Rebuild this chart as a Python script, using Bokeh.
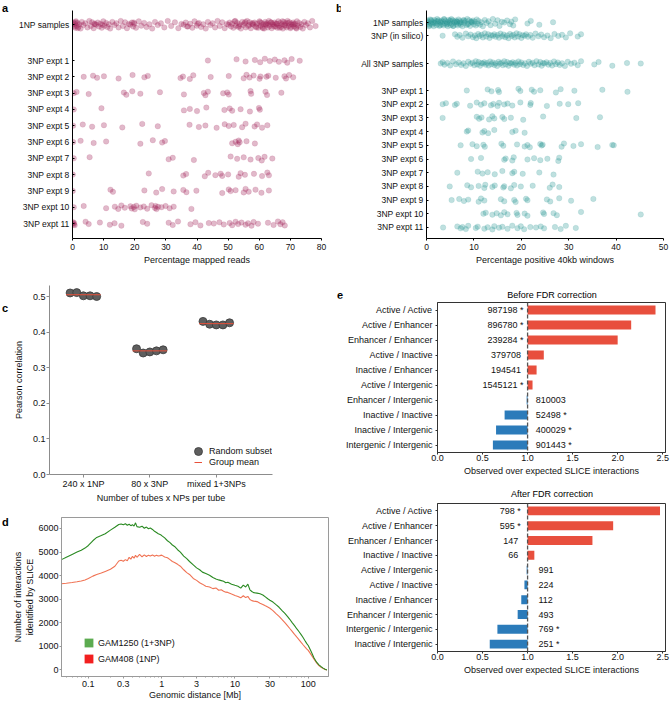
from bokeh.plotting import figure
from bokeh.layouts import row, column
from bokeh.models import (Range1d, FactorRange, FixedTicker, Legend, LegendItem,
                          Span, NumeralTickFormatter, Div)
from bokeh.embed import file_html
from bokeh.resources import INLINE
from bokeh.core.properties import value
import numpy as np

FONT = "Liberation Sans"

# ---------------- data: panel a (percentage mapped reads) ----------------
a_rows = ["3NP expt 1", "3NP expt 2", "3NP expt 3", "3NP expt 4", "3NP expt 5", "3NP expt 6",
          "3NP expt 7", "3NP expt 8", "3NP expt 9", "3NP expt 10", "3NP expt 11"]
a_1np = [0.1, 0.3, 0.5, 0.7, 0.9, 1.1, 1.3, 1.6, 1.9, 2.2, 2.6, 3.0, 3.5, 4.1, 4.8,
         5.4, 5.9, 6.3, 6.8, 7.2, 7.6, 8.1, 8.5, 9.0, 9.4, 9.9, 10.3, 10.8, 11.2, 11.7, 12.1,
         12.8, 13.5, 14.1, 14.8, 15.5, 16.2, 16.9, 17.5, 18.1, 18.6, 19.1, 19.5, 19.9, 20.4,
         21.3, 22.1, 23.0, 23.8, 24.7, 25.6, 26.5, 27.4, 28.4, 29.5, 30.6, 31.7, 32.9, 34.0,
         35.0, 35.7, 36.4, 37.1, 37.8, 38.5, 39.2, 39.9, 40.6, 41.3, 42.0, 42.8, 43.5, 44.3,
         45.0, 45.8, 46.6, 47.3, 48.1, 48.9, 49.6,
         50.1, 50.5, 50.9, 51.3, 51.7, 52.1, 52.5, 52.9, 53.3, 53.7, 54.1, 54.5, 54.9, 55.3,
         55.7, 56.1, 56.5, 56.9, 57.3, 57.7, 58.1, 58.5, 58.9, 59.3, 59.7, 60.1, 60.4, 60.7,
         61.0, 61.3, 61.6, 61.9, 62.2, 62.5, 62.8, 63.1, 63.4, 63.7, 64.0, 64.3, 64.6, 64.9,
         65.2, 65.5, 65.8, 66.1, 66.4, 66.7, 67.0, 67.3, 67.6, 67.9, 68.2, 68.5, 68.8, 69.1,
         69.4, 69.7, 70.0, 70.3, 70.6, 70.9, 71.2, 71.5, 71.8, 72.1, 72.4, 72.8, 73.2, 73.6,
         74.0, 74.5, 75.0, 75.6, 76.3, 77.0, 78.1,
         60.25, 61.15, 62.05, 62.95, 63.85, 64.75, 65.65, 66.55, 67.45, 68.35, 69.25, 70.15,
         71.05, 71.95, 55.5, 56.7, 57.9, 59.1, 52.3, 53.5, 1.0, 1.7, 7.0, 9.6, 19.7, 36.8, 40.2]
a_e1 = [43.5, 52.7, 55.6, 58.6, 60.3, 61.8, 63.4, 65.0, 66.3, 68.1, 69.0, 70.4, 73.0]
a_e2 = [3.6, 6.6, 7.9, 10.1, 14.8, 19.3, 23.1, 24.2, 34.7, 35.5, 37.7, 38.8, 44.4, 50.2, 55.0,
        55.9, 56.9, 58.2, 60.1, 60.4, 62.3, 62.9, 65.3, 68.1, 68.6, 69.6, 70.9]
a_e3 = [0.4, 1.3, 5.2, 16.5, 17.3, 19.2, 21.8, 28.1, 35.8, 42.2, 42.7, 43.5, 48.4, 49.7, 50.2,
        57.2, 57.4, 62.0, 62.5, 67.1]
a_e4 = [0.4, 9.3, 35.8, 37.7, 40.0, 43.0, 48.8, 50.5, 51.3, 54.0, 57.0, 59.9, 60.2]
a_e5 = [0.2, 3.3, 6.3, 10.1, 16.0, 22.4, 27.4, 37.6, 40.6, 42.7, 46.3, 48.9, 50.2, 51.8, 54.5,
        55.6, 58.5, 59.3, 60.9, 62.6]
a_e6 = [0.2, 2.6, 6.8, 10.8, 21.8, 25.8, 28.8, 29.7, 51.3, 52.4, 53.1, 53.4, 53.7, 55.9, 58.6]
a_e7 = [0.4, 5.5, 30.9, 32.2, 39.0, 50.8, 52.9, 55.0, 57.2, 59.7, 60.8, 61.7, 64.2]
a_e8 = [0.1, 24.5, 35.6, 36.5, 42.5, 43.6, 45.9, 47.6, 48.1, 50.0, 53.4, 54.0, 55.4, 58.3, 60.9,
        62.6, 63.1]
a_e9 = [0.1, 12.2, 13.0, 23.1, 26.9, 28.8, 32.5, 35.6, 36.6, 39.8, 48.1, 50.2, 50.8, 52.4, 55.0,
        55.6, 56.6, 58.8, 60.7, 63.1]
a_e10 = [0.4, 3.6, 10.8, 13.6, 14.7, 15.7, 16.8, 18.6, 19.0, 19.7, 20.0, 20.5, 21.8, 22.9, 24.0,
         25.4, 26.5, 26.7, 27.0, 27.5, 28.6, 29.9, 31.2, 32.5, 38.2]
a_e11 = [0.0, 0.2, 0.4, 0.5, 0.7, 4.2, 5.2, 8.8, 12.0, 13.5, 15.7, 22.6, 24.0, 30.9, 32.2, 33.9,
         37.9, 39.5, 41.1, 43.8, 45.4, 47.2, 48.6, 50.5, 51.3, 52.4, 53.2, 54.3, 55.6, 56.4, 57.5,
         58.2, 59.6, 62.8, 64.6, 66.0, 66.8, 67.5, 68.2]
a_expts = [a_e1, a_e2, a_e3, a_e4, a_e5, a_e6, a_e7, a_e8, a_e9, a_e10, a_e11]

# ---------------- data: panel b (percentage positive 40kb windows) ----------------
b_1np = [0.1, 0.2, 0.3, 0.45, 0.6, 0.75, 0.9, 1.05, 1.2, 1.35, 1.5, 1.65, 1.8, 1.95, 2.1, 2.25,
         2.4, 2.55, 2.7, 2.85, 3.0, 3.15, 3.3, 3.45, 3.6, 3.75, 3.9, 4.05, 4.2, 4.35, 4.5, 4.65,
         4.8, 4.95, 5.1, 5.25, 5.4, 5.55, 5.7, 5.85, 6.0, 6.15, 6.3, 6.45, 6.6, 6.75, 6.9, 7.05,
         7.2, 7.4, 7.6, 7.8, 8.0, 8.2, 8.4, 8.6, 8.8, 9.0, 9.2, 9.4, 9.6, 9.8, 10.0, 10.2, 10.4,
         10.6, 10.8, 11.0, 11.3, 11.6, 11.9, 12.3, 12.7, 13.1, 13.5, 14.0, 14.5, 15.0, 15.4,
         15.9, 16.4, 17.0, 17.6, 17.9, 18.3, 18.7, 21.3, 22.0, 23.8, 26.7,
         0.5, 1.0, 1.6, 2.3, 2.9, 3.7, 4.4, 5.0, 5.6, 6.4, 7.1, 7.9, 8.7, 9.5]
b_silico = [3.4, 6.0, 6.5, 7.0, 7.6, 8.3, 8.8, 9.3, 9.8, 10.2, 10.5, 10.9, 11.2, 11.6, 11.9, 12.3,
            12.6, 13.0, 13.3, 13.6, 14.0, 14.3, 14.6, 15.0, 15.3, 15.6, 16.0, 16.3, 16.6, 17.0,
            17.3, 17.6, 18.0, 18.3, 18.6, 19.0, 19.3, 19.6, 20.0, 20.3, 20.7, 21.0, 21.4, 21.9,
            22.4, 23.0, 23.6, 24.2, 24.8, 25.5, 26.2, 27.0, 27.8, 28.6, 29.4, 30.3, 31.9, 32.6]
b_all3 = [3.0, 3.4, 3.8, 4.4, 5.0, 5.6, 6.2, 6.8, 7.3, 7.8, 8.3, 8.8, 9.3, 9.7, 10.1, 10.4, 10.7,
          11.0, 11.3, 11.6, 11.9, 12.2, 12.5, 12.8, 13.1, 13.4, 13.7, 14.0, 14.3, 14.6, 14.9,
          15.2, 15.5, 15.8, 16.1, 16.4, 16.7, 17.0, 17.3, 17.6, 17.9, 18.2, 18.5, 18.8, 19.1,
          19.4, 19.7, 20.0, 20.4, 20.8, 21.2, 21.6, 22.0, 22.4, 22.8, 23.2, 23.6, 24.0, 24.3,
          24.6, 24.9, 25.3, 25.7, 26.1, 26.5, 26.9, 27.3, 27.7, 28.1, 28.6, 29.2, 29.8, 30.5,
          31.2, 31.9, 32.6, 35.4, 36.3, 39.2, 42.3, 45.2]
b_e1 = [8.5, 12.9, 13.7, 15.1, 15.3, 19.4, 19.8, 22.2, 22.7, 24.0, 27.3, 28.3, 31.2, 37.1, 42.4]
b_e2 = [3.4, 4.1, 6.0, 6.4, 9.2, 10.6, 11.5, 12.2, 13.6, 14.1, 15.0, 15.3, 16.4, 17.1, 18.1, 19.8,
        21.9, 22.0, 25.4, 28.1, 29.9, 32.0]
b_e3 = [3.4, 10.6, 11.1, 11.6, 13.2, 13.9, 14.3, 16.0, 16.4, 17.8, 20.4, 24.6, 31.6, 36.6]
b_e4 = [8.5, 8.8, 11.8, 12.2, 13.0, 14.3, 18.1, 18.8, 20.7]
b_e5 = [7.2, 9.7, 10.6, 12.0, 12.3, 15.8, 16.2, 19.1, 20.7, 21.3, 21.8, 24.0, 24.3, 24.5, 28.5,
        29.0, 31.0, 32.6, 36.1, 39.2, 39.5]
b_e6 = [9.4, 11.5, 16.4, 16.7, 18.1, 18.4, 21.3, 22.7, 24.0, 25.5, 27.8, 28.0]
b_e7 = [6.5, 10.8, 11.8, 12.9, 14.4, 16.0, 18.1, 18.5, 20.3, 23.8, 26.8]
b_e8 = [4.9, 8.6, 9.4, 11.0, 12.2, 12.4, 13.9, 14.4, 16.2, 16.4, 17.8, 18.5, 19.9, 22.4, 26.0,
        26.6, 28.0]
b_e9 = [5.3, 6.9, 7.9, 8.8, 11.0, 11.5, 12.2, 15.7, 16.4, 18.5, 18.8, 21.0, 21.3, 25.4, 26.1,
        28.0, 30.5, 35.2]
b_e10 = [12.0, 12.5, 13.9, 14.8, 15.7, 16.4, 17.1, 19.0, 19.2, 20.7, 21.3, 24.6, 24.8, 26.8, 27.5,
         32.6, 45.2]
b_e11 = [3.5, 6.5, 7.2, 7.6, 8.3, 8.8, 10.4, 10.8, 12.2, 12.9, 13.9, 14.3, 15.3, 16.0, 17.1, 18.1,
         19.2, 19.9, 20.6, 21.9, 23.1, 24.1, 24.8, 27.1, 28.3, 29.4, 31.5]
b_expts = [b_e1, b_e2, b_e3, b_e4, b_e5, b_e6, b_e7, b_e8, b_e9, b_e10, b_e11]

# ---------------- data: panel c ----------------
c_groups = ["240 x 1NP", "80 x 3NP", "mixed 1+3NPs"]
c_240x1 = [0.511, 0.512, 0.503, 0.503, 0.501]
c_80x3 = [0.354, 0.342, 0.345, 0.348, 0.351]
c_mixed = [0.431, 0.423, 0.421, 0.421, 0.427]
c_vals = [c_240x1, c_80x3, c_mixed]

# ---------------- data: panel d ----------------
d_dist = [0.043, 0.05, 0.06, 0.07, 0.08, 0.09, 0.1, 0.115, 0.13, 0.15, 0.17, 0.2, 0.23, 0.26,
          0.28, 0.3, 0.32, 0.34, 0.36, 0.38, 0.4, 0.42, 0.44, 0.46, 0.5, 0.54, 0.58, 0.62, 0.66,
          0.7, 0.75, 0.8, 0.85, 0.9, 0.95, 1.0, 1.1, 1.2, 1.3, 1.4, 1.5, 1.65, 1.8, 2.0, 2.2, 2.4,
          2.7, 3.0, 3.3, 3.6, 4.0, 4.5, 5.0, 5.5, 6.0, 6.5, 7.0, 7.5, 8.0, 9.0, 10, 11, 12, 13,
          14, 15, 16, 17, 18, 20, 22, 24, 26, 28, 30, 33, 36, 40, 44, 48, 52, 56, 60, 65, 70, 75,
          80, 85, 90, 95, 100, 110, 120, 130, 140, 150, 160, 170, 180]
d_gam1250 = [4680, 4780, 4900, 5000, 5080, 5170, 5280, 5480, 5620, 5700, 5780, 5930, 6050, 6170,
             6190, 6160, 6200, 6140, 6180, 6120, 6160, 6100, 6240, 6080, 6050, 6100, 6010, 6060,
             5990, 6020, 5960, 5880, 5830, 5780, 5750, 5700, 5600, 5480, 5400, 5300, 5240, 5100,
             5000, 4830, 4720, 4600, 4460, 4330, 4250, 4150, 4090, 4020, 3920, 3860, 3820, 3790,
             3760, 3700, 3720, 3640, 3590, 3550, 3470, 3600, 3520, 3640, 3400, 3330, 3280, 3260,
             3230, 3180, 3100, 3020, 2960, 2880, 2780, 2660, 2520, 2400, 2270, 2150, 2020, 1880,
             1740, 1620, 1500, 1380, 1250, 1130, 1040, 770, 510, 330, 220, 140, 80, 30, 0]
d_gam408 = [3660, 3680, 3710, 3740, 3770, 3820, 3880, 3980, 4050, 4110, 4180, 4270, 4400, 4620,
            4650, 4610, 4680, 4630, 4780, 4700, 4820, 4740, 4860, 4780, 4900, 4800, 4880, 4810,
            4870, 4830, 4880, 4820, 4870, 4830, 4850, 4870, 4790, 4760, 4680, 4600, 4560, 4480,
            4400, 4250, 4130, 4050, 3880, 3800, 3700, 3640, 3550, 3520, 3450, 3480, 3380, 3400,
            3340, 3300, 3290, 3220, 3160, 3120, 3060, 3150, 3070, 3120, 2990, 2940, 2920, 2900,
            2830, 2780, 2720, 2670, 2620, 2520, 2400, 2270, 2140, 2010, 1880, 1760, 1650, 1510,
            1390, 1280, 1170, 1070, 980, 900, 830, 640, 460, 300, 190, 110, 60, 20, 5]

# ---------------- data: panel e ----------------
e1_cats = ["Active / Active", "Active / Enhancer", "Enhancer / Enhancer", "Active / Inactive",
           "Inactive / Enhancer", "Active / Intergenic", "Enhancer / Intergenic",
           "Inactive / Inactive", "Inactive / Intergenic", "Intergenic / Intergenic"]
e1_vals = [2.42, 2.15, 2.00, 1.18, 1.10, 1.055, 0.99, 0.745, 0.65, 0.615]
e1_counts = ["987198", "896780", "239284", "379708", "194541", "1545121", "810003", "52498",
             "400029", "901443"]
e1_sig = [True, True, True, False, False, True, False, True, True, True]

e2_cats = ["Active / Active", "Active / Enhancer", "Enhancer / Enhancer", "Inactive / Inactive",
           "Active / Intergenic", "Active / Inactive", "Inactive / Enhancer",
           "Enhancer / Intergenic", "Intergenic / Intergenic", "Inactive / Intergenic"]
e2_vals = [2.47, 1.95, 1.72, 1.075, 0.99, 0.965, 0.93, 0.89, 0.665, 0.58]
e2_counts = ["798", "595", "147", "66", "991", "224", "112", "493", "769", "251"]
e2_sig = [True, True, False, False, False, False, False, False, True, True]

# ---------------- styles ----------------
A_COL = "#a3245a"
B_COL = "#2a9896"
RED = "#e84f3d"
BLUE = "#2b7bba"
JIT = [0.0, 0.55, -0.45, 0.25, -0.8, 0.85, -0.25, 0.45, -0.6, 0.1, -1.0, 0.7, -0.1, 0.35,
       -0.7, 0.95, -0.35, 0.6, -0.9, 0.2]


def jitter(vals, pos, half):
    return [pos + half * JIT[i % len(JIT)] for i in range(len(vals))]


def make_fig(w, h, xr, yr, l, r, t, b, **kw):
    p = figure(width=w, height=h, x_range=xr, y_range=yr, output_backend="svg",
               toolbar_location=None, min_border_left=l, min_border_right=r,
               min_border_top=t, min_border_bottom=b, **kw)
    p.grid.visible = False
    return p


def style_axes(p, size="9px", color="#000000", tick_in=0, tick_out=3, standoff=3):
    for ax in p.axis:
        ax.major_label_text_font = FONT
        ax.major_label_text_font_size = size
        ax.major_label_text_color = "#111111"
        ax.axis_label_text_font = FONT
        ax.axis_label_text_font_size = "9px"
        ax.axis_label_text_font_style = "normal"
        ax.axis_label_text_color = "#111111"
        ax.axis_line_color = color
        ax.major_tick_line_color = color
        ax.major_tick_in = tick_in
        ax.major_tick_out = tick_out
        ax.minor_tick_line_color = None
        ax.major_label_standoff = standoff


def text_div(txt, w, h, left, top, bold=True, size=11, inner_w=None, center=False):
    style = ("position:relative; left:%dpx; top:%dpx; font-family:'%s'; font-size:%dpx; "
             "line-height:12px; color:#000; white-space:nowrap; font-weight:%s;"
             % (left, top, FONT, size, "bold" if bold else "normal"))
    if inner_w is not None:
        style += " width:%dpx;" % inner_w
    if center:
        style += " text-align:center;"
    return Div(text='<div style="%s">%s</div>' % (style, txt), width=w, height=h,
               margin=(0, 0, 0, 0))


# ================= panel a =================
pa = make_fig(321, 272, Range1d(0, 80), Range1d(0.08, 14.07), 63, 9, 10, 34)
pa.outline_line_color = None
a_pos = [12 - k for k in range(1, 12)]
xs, ys = list(a_1np), jitter(a_1np, 13.2, 0.24)
for vals, pos in zip(a_expts, a_pos):
    xs += vals
    ys += jitter(vals, pos, 0.13)
pa.scatter(xs, ys, size=5.5, fill_color=A_COL, fill_alpha=0.32, line_color=A_COL, line_alpha=0.12)
pa.xaxis.ticker = FixedTicker(ticks=[0, 10, 20, 30, 40, 50, 60, 70, 80])
pa.yaxis.ticker = FixedTicker(ticks=a_pos + [13.2])
ov = {p_: n for p_, n in zip(a_pos, a_rows)}
ov[13.2] = "1NP samples"
pa.yaxis.major_label_overrides = ov
pa.xaxis.axis_label = "Percentage mapped reads"
style_axes(pa, size="8.5px", tick_in=0, tick_out=2, standoff=3)
pa.yaxis.major_tick_in = 2
pa.yaxis.major_tick_out = 0
pa.xaxis.axis_label_standoff = 2

# ================= panel b =================
pb = make_fig(330, 272, Range1d(0, 50), Range1d(0.197, 16.84), 86, 7, 10, 34)
pb.outline_line_color = None
b_rows = ["3NP expt %d" % k for k in range(1, 12)]
b_pos = [12 - k for k in range(1, 12)]
xs = list(b_1np) + list(b_silico) + list(b_all3)
ys = jitter(b_1np, 15.96, 0.27) + jitter(b_silico, 15.0, 0.18) + jitter(b_all3, 12.97, 0.18)
for vals, pos in zip(b_expts, b_pos):
    xs += vals
    ys += jitter(vals, pos, 0.14)
pb.scatter(xs, ys, size=5.5, fill_color=B_COL, fill_alpha=0.3, line_color=B_COL, line_alpha=0.12)
pb.xaxis.ticker = FixedTicker(ticks=[0, 10, 20, 30, 40, 50])
pb.yaxis.ticker = FixedTicker(ticks=b_pos + [12.97, 15.0, 15.96])
ov = {p_: n for p_, n in zip(b_pos, b_rows)}
ov[12.97] = "All 3NP samples"
ov[15.0] = "3NP (in silico)"
ov[15.96] = "1NP samples"
pb.yaxis.major_label_overrides = ov
pb.xaxis.axis_label = "Percentage positive 40kb windows"
style_axes(pb, size="8.5px", tick_in=0, tick_out=2, standoff=3)
pb.yaxis.major_tick_in = 2
pb.yaxis.major_tick_out = 0
pb.xaxis.axis_label_standoff = 2

# ================= panel c =================
pc = make_fig(321, 233, Range1d(-0.51, 2.846), Range1d(0, 0.532), 40, 58, 13, 28)
pc.outline_line_color = None
offs = [-0.2, -0.1, 0.0, 0.1, 0.2]
cx, cy, mx0, mx1, my = [], [], [], [], []
for gi, vals in enumerate(c_vals):
    cx += [gi + o for o in offs]
    cy += vals
    mx0.append(gi - 0.26)
    mx1.append(gi + 0.26)
    my.append(float(np.mean(vals)))
pts = pc.scatter(cx, cy, size=8, fill_color="#5e5e5e", line_color="#3a3a3a", line_width=0.8)
mean_r = pc.segment(x0=mx0, y0=my, x1=mx1, y1=my, line_color="#e8503a", line_width=1.0)
pc.xaxis.ticker = FixedTicker(ticks=[0, 1, 2])
pc.xaxis.major_label_overrides = {i: g for i, g in enumerate(c_groups)}
pc.yaxis.ticker = FixedTicker(ticks=[0, 0.1, 0.2, 0.3, 0.4, 0.5])
pc.yaxis.formatter = NumeralTickFormatter(format="0.0")
pc.xaxis.axis_label = "Number of tubes x NPs per tube"
pc.yaxis.axis_label = "Pearson correlation"
style_axes(pc, size="9px", color="#8c8c8c", tick_out=3, standoff=1)
pc.xaxis.axis_label_standoff = 1
pc.yaxis.axis_label_standoff = 6
for lab, rend, gw, gh, lx, ly, so in [("Random subset", pts, 20, 20, 139, 13, 1),
                                       ("Group mean", mean_r, 8, 10, 145, 7, 7)]:
    lg = Legend(items=[LegendItem(label=lab, renderers=[rend])], location=(lx, ly),
                glyph_width=gw, glyph_height=gh, label_height=10, label_standoff=so,
                padding=0, margin=0, border_line_color=None, background_fill_alpha=0,
                label_text_font=FONT, label_text_font_size="9px", label_text_color="#111111")
    pc.add_layout(lg)

# ================= panel d =================
pdd = make_fig(321, 197, Range1d(0.043, 189), Range1d(-276, 6466), 52, 2, 12, 26,
               x_axis_type="log")
pdd.outline_line_color = "#9a9a9a"
pdd.line(d_dist, d_gam408, line_color="#f07354", line_width=1.1)
pdd.line(d_dist, d_gam1250, line_color="#2a8a22", line_width=1.1)
pdd.xaxis.ticker = FixedTicker(
    ticks=[0.1, 0.3, 1, 3, 10, 30, 100],
    minor_ticks=[0.05, 0.06, 0.07, 0.08, 0.09, 0.2, 0.4, 0.5, 0.6, 0.7, 0.8, 0.9, 2, 4, 5, 6, 7,
                 8, 9, 20, 40, 50, 60, 70, 80, 90])
pdd.xaxis.formatter = NumeralTickFormatter(format="0.[0]")
pdd.yaxis.ticker = FixedTicker(ticks=[0, 1000, 2000, 3000, 4000, 5000, 6000])
pdd.xaxis.axis_label = "Genomic distance [Mb]"
pdd.yaxis.axis_label = "Number of interactions\nidentified by SLICE"
style_axes(pdd, size="9px", color="#9a9a9a", tick_out=2, standoff=1)
pdd.xaxis.major_label_standoff = 2
pdd.xaxis.minor_tick_line_color = "#9a9a9a"
pdd.xaxis.minor_tick_out = 1
pdd.xaxis.minor_tick_in = 0
pdd.xaxis.axis_label_standoff = 0
pdd.yaxis.axis_label_standoff = 0
lg_g = pdd.quad(left=[1e-4], right=[2e-4], top=[-2000], bottom=[-3000],
                fill_color="#5cab50", line_color=None)
lg_r = pdd.quad(left=[1e-4], right=[2e-4], top=[-2000], bottom=[-3000],
                fill_color="#f21f1f", line_color=None)
pdd.add_layout(Legend(items=[LegendItem(label="GAM1250 (1+3NP)", renderers=[lg_g]),
                             LegendItem(label="GAM408 (1NP)", renderers=[lg_r])],
                      location=(22, 12), glyph_width=11, glyph_height=11, label_height=11,
                      spacing=5, label_standoff=4, padding=0, margin=0, border_line_color=None,
                      background_fill_alpha=0, label_text_font=FONT, label_text_font_size="9px",
                      label_text_color="#111111"))


# ================= panel e =================
def panel_e(h, top, bottom, cats, vals, counts, sig, right_x, left_x):
    p = make_fig(340, h, Range1d(0, 2.531), FactorRange(factors=list(reversed(cats))),
                 107, 5, top, bottom)
    p.outline_line_color = "#333333"
    colors = [RED if v > 1 else BLUE for v in vals]
    p.hbar(y=cats, left=1.0, right=vals, height=0.6, fill_color=colors, line_color=None)
    p.add_layout(Span(location=1.0, dimension="height", line_color="#555555",
                      line_dash="4 2", line_width=1.3))
    rc = [c for c, v in zip(cats, vals) if v > 1]
    rt = [n + (" *" if s else "\u00a0") for n, v, s in zip(counts, vals, sig) if v > 1]
    lc = [c for c, v in zip(cats, vals) if v <= 1]
    lt = [n + (" *" if s else "") for n, v, s in zip(counts, vals, sig) if v <= 1]
    p.text(x=[right_x] * len(rc), y=rc, text=rt, text_align="right", text_baseline="middle",
           text_font=value(FONT), text_font_size="9px", text_color="#111111")
    p.text(x=[left_x] * len(lc), y=lc, text=lt, text_align="left", text_baseline="middle",
           text_font=value(FONT), text_font_size="9px", text_color="#111111")
    p.xaxis.ticker = FixedTicker(ticks=[0, 0.5, 1.0, 1.5, 2.0, 2.5])
    p.xaxis.formatter = NumeralTickFormatter(format="0.0")
    p.xaxis.axis_label = "Observed over expected SLICE interactions"
    style_axes(p, size="9px", color="#333333", tick_out=2, standoff=0)
    p.xaxis.axis_label_standoff = 2
    p.yaxis.major_label_standoff = 3
    return p


pe1 = panel_e(182, 4, 28, e1_cats, e1_vals, e1_counts, e1_sig, 0.955, 1.09)
pe2 = panel_e(202, 3, 51, e2_cats, e2_vals, e2_counts, e2_sig, 0.925, 1.12)

# ================= labels (panel letters and panel-e titles) =================
div_a = text_div("a", 9, 272, 2, 0)
div_b = text_div("b", 10, 272, 6, 0)
div_c = text_div("c", 9, 233, 2, 28)
div_d = text_div("d", 9, 197, 2, 9)
div_e = text_div("e", 10, 26, 7, 15)
div_t1 = text_div("Before FDR correction", 330, 26, 47, 14, bold=False, size=9,
                  inner_w=330, center=True)
div_t2 = text_div("After FDR correction", 340, 20, 52, 5, bold=False, size=9,
                  inner_w=340, center=True)

left_col = column(row(div_c, pc), row(div_d, pdd))
right_col = column(row(div_e, div_t1), pe1, div_t2, pe2)
layout = column(row(div_a, pa, div_b, pb), row(left_col, right_col))
open("out.html", "w").write(file_html(layout, INLINE))
